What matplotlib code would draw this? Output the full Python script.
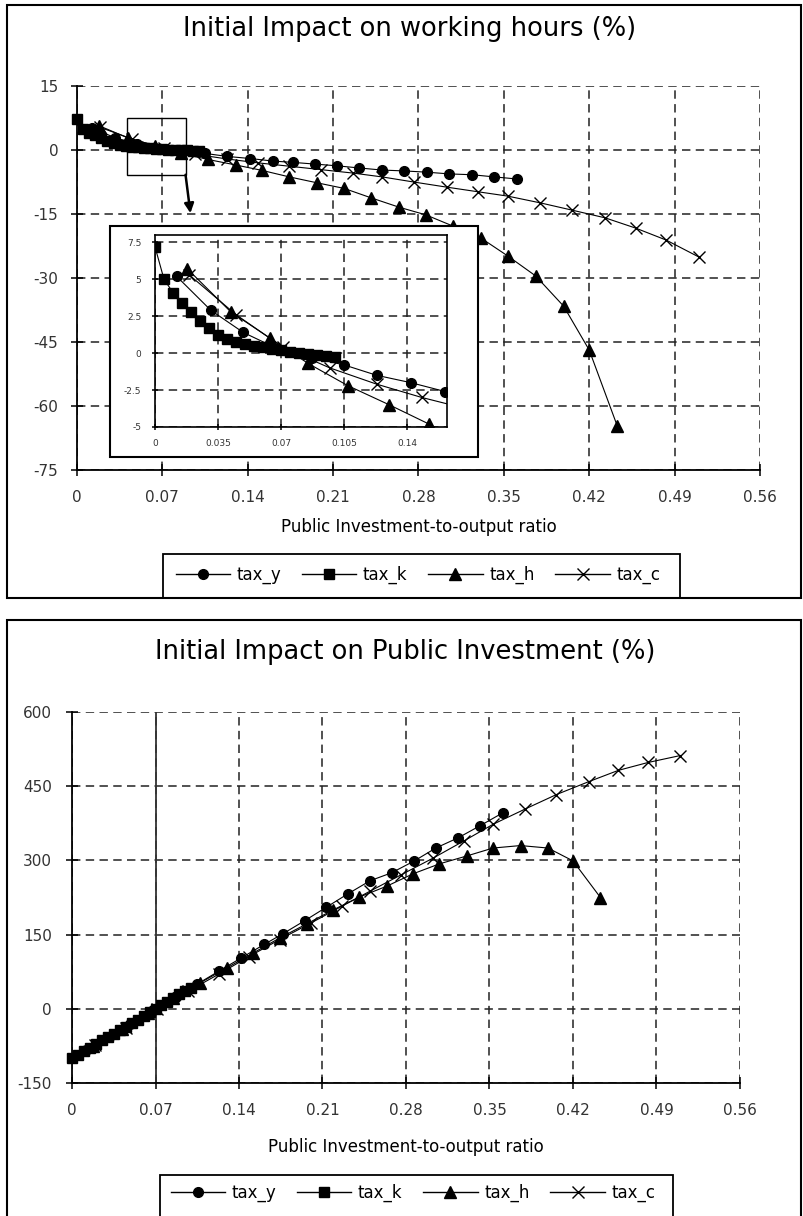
import matplotlib
matplotlib.use("Agg")
import matplotlib.pyplot as plt
from matplotlib.patches import Rectangle
from matplotlib.lines import Line2D

plt.rcParams['font.family'] = ['DejaVu Sans']

W, H = 804, 1216

# ---- data ----
series = ['tax_y', 'tax_k', 'tax_h', 'tax_c']

x_y = [0.012, 0.031, 0.049, 0.068, 0.087, 0.105, 0.123, 0.142, 0.161, 0.177,
       0.195, 0.213, 0.231, 0.250, 0.268, 0.287, 0.305, 0.324, 0.342, 0.361]
hours_y = [5.2, 2.9, 1.4, 0.3, -0.3, -0.8, -1.5, -2.0, -2.6, -2.9,
           -3.3, -3.7, -4.2, -4.7, -4.9, -5.2, -5.6, -5.8, -6.3, -6.8]
pubinv_y = [-83, -56, -30, -3, 24, 50, 76, 103, 130, 152,
            178, 205, 232, 259, 275, 299, 325, 346, 370, 396]

x_k = [0.000, 0.005, 0.010, 0.015, 0.020, 0.025, 0.030, 0.035, 0.040, 0.045, 0.050,
       0.055, 0.060, 0.065, 0.070, 0.075, 0.080, 0.085, 0.090, 0.095, 0.100]
hours_k = [7.2, 5.0, 4.1, 3.4, 2.8, 2.2, 1.7, 1.25, 0.95, 0.75, 0.6,
           0.5, 0.4, 0.3, 0.2, 0.1, 0.0, -0.05, -0.1, -0.2, -0.25]
pubinv_k = [-100, -93, -86, -79, -72, -64, -57, -50, -43, -36, -29,
            -22, -14, -7, 0, 7, 14, 21, 29, 36, 43]

x_h = [0.018, 0.042, 0.064, 0.085, 0.107, 0.130, 0.152, 0.174, 0.197, 0.219,
       0.241, 0.264, 0.286, 0.308, 0.331, 0.353, 0.376, 0.399, 0.420, 0.443]
hours_h = [5.7, 2.8, 1.0, -0.7, -2.2, -3.5, -4.8, -6.3, -7.7, -9.0,
           -11.2, -13.4, -15.2, -17.8, -20.6, -24.8, -29.5, -36.6, -46.9, -64.7]
pubinv_h = [-75, -41, -9, 21, 52, 83, 113, 143, 172, 200,
            226, 248, 273, 293, 309, 325, 330, 325, 299, 225]

x_c = [0.019, 0.045, 0.071, 0.097, 0.123, 0.148, 0.174, 0.200, 0.226, 0.250,
       0.276, 0.303, 0.329, 0.353, 0.380, 0.406, 0.433, 0.458, 0.483, 0.510]
hours_c = [5.3, 2.6, 0.4, -1.0, -2.1, -3.0, -3.8, -4.6, -5.4, -6.3,
           -7.5, -8.7, -9.8, -10.8, -12.4, -14.1, -15.9, -18.3, -21.1, -25.1]
pubinv_c = [-74, -38, -1, 35, 70, 105, 140, 173, 207, 238,
            271, 305, 340, 373, 404, 433, 459, 482, 498, 512]

x_ticks = [0, 0.07, 0.14, 0.21, 0.28, 0.35, 0.42, 0.49, 0.56]
x_ticklabels = ['0', '0.07', '0.14', '0.21', '0.28', '0.35', '0.42', '0.49', '0.56']
hours_ticks = [15, 0, -15, -30, -45, -60, -75]
pubinv_ticks = [600, 450, 300, 150, 0, -150]
inset_xticks = [0, 0.035, 0.07, 0.105, 0.14]
inset_xlabels = ['0', '0.035', '0.07', '0.105', '0.14']
inset_yticks = [7.5, 5, 2.5, 0, -2.5, -5]
inset_ylabels = ['7.5', '5', '2.5', '0', '-2.5', '-5']

markers = {'tax_y': ('o', 7.0, 1.0), 'tax_k': ('s', 7.0, 1.0),
           'tax_h': ('^', 8.5, 1.0), 'tax_c': ('x', 8.0, 1.0)}

GRID_DASH = (0, (5.5, 3.5))


def fr(x0, y0, x1, y1):
    # pixel box (top-left origin) -> figure fraction rect
    return [x0 / W, 1 - y1 / H, (x1 - x0) / W, (y1 - y0) / H]


def fx(x):
    return x / W


def fy(y):
    return 1 - y / H


def box(fig, x0, y0, x1, y1, lw=1.5, fc='none', z=1):
    fig.add_artist(Rectangle((fx(x0), fy(y1)), (x1 - x0) / W, (y1 - y0) / H,
                             transform=fig.transFigure, fill=(fc != 'none'),
                             facecolor=fc, edgecolor='black', lw=lw, zorder=z))


def draw(ax, xs, ys, clip=False):
    for name, x, y in zip(series, xs, ys):
        m, ms, mew = markers[name]
        ax.plot(x, y, color='black', lw=0.8, marker=m, ms=ms, mew=mew,
                mfc='black', mec='black', clip_on=clip, zorder=3)


def style(ax, xt, xl, yt, yl, fs, pad_x, pad_y, tl=9):
    ax.set_xticks(xt)
    ax.set_xticklabels(xl)
    ax.set_yticks(yt)
    ax.set_yticklabels(yl)
    ax.grid(True, color='#222222', linestyle=GRID_DASH, linewidth=1.1)
    ax.set_axisbelow(True)
    ax.tick_params(direction='inout', length=tl, width=1.1, labelsize=fs,
                   labelcolor='#333333')
    ax.tick_params(axis='x', pad=pad_x)
    ax.tick_params(axis='y', pad=pad_y)
    for s in ['left', 'bottom']:
        ax.spines[s].set_linewidth(1.3)


def legend(fig, cx, cy, fs):
    handles = []
    for name in series:
        m, ms, mew = markers[name]
        handles.append(Line2D([], [], color='black', lw=1.0, marker=m, ms=ms,
                              mew=mew, mfc='black', mec='black'))
    fig.legend(handles, series, loc='center', bbox_to_anchor=(fx(cx), fy(cy)),
               ncol=4, frameon=False, fontsize=fs, handlelength=3.25,
               handletextpad=0.4, columnspacing=1.25)


fig = plt.figure(figsize=(W / 100, H / 100), dpi=100)

# ---------------- top: working hours ----------------
box(fig, 7, 5, 801, 598)
fig.text(fx(410), fy(29), 'Initial Impact on working hours (%)', ha='center',
         va='center', fontsize=18.5)

ax1 = fig.add_axes(fr(77, 86, 760, 470))
draw(ax1, [x_y, x_k, x_h, x_c], [hours_y, hours_k, hours_h, hours_c])
ax1.set_xlim(0, 0.56)
ax1.set_ylim(-75, 15)
style(ax1, x_ticks, x_ticklabels, hours_ticks, [str(v) for v in hours_ticks],
      11, 10, 9)
ax1.spines['top'].set_visible(False)
ax1.spines['right'].set_visible(False)
ax1.set_xlabel('Public Investment-to-output ratio', fontsize=12, labelpad=9)

# zoom box and pointer
ax1.add_patch(Rectangle((0.041, -5.8), 0.048, 13.3, fill=False, lw=1.0,
                        ec='black', zorder=4))
ax1.annotate('', xy=(0.093, -14.8), xytext=(0.089, -5.8),
             arrowprops=dict(arrowstyle='-|>', color='black', lw=1.8,
                             mutation_scale=14, shrinkA=0, shrinkB=0),
             zorder=4)

# inset
box(fig, 110, 226, 478, 457, lw=1.5, fc='white', z=1)
ins = fig.add_axes(fr(155, 235, 447, 427))
ins.set_zorder(2)
draw(ins, [x_y, x_k, x_h, x_c], [hours_y, hours_k, hours_h, hours_c], clip=True)
ins.set_xlim(0, 0.162)
ins.set_ylim(-5, 8)
style(ins, inset_xticks, inset_xlabels, inset_yticks, inset_ylabels, 6.5, 7, 8, tl=4)
for s in ins.spines.values():
    s.set_linewidth(1.2)

box(fig, 163, 554, 680, 598, lw=1.3)
legend(fig, 418, 575, 12)

# ---------------- bottom: public investment ----------------
box(fig, 7, 620, 801, 1230)
fig.text(fx(405), fy(652), 'Initial Impact on Public Investment (%)',
         ha='center', va='center', fontsize=18.5)

ax2 = fig.add_axes(fr(72, 712, 740, 1083))
draw(ax2, [x_y, x_k, x_h, x_c], [pubinv_y, pubinv_k, pubinv_h, pubinv_c])
ax2.axvline(0.07, color='#333333', lw=1.3, zorder=2)
ax2.set_xlim(0, 0.56)
ax2.set_ylim(-150, 600)
style(ax2, x_ticks, x_ticklabels, pubinv_ticks, [str(v) for v in pubinv_ticks],
      11, 10, 10)
ax2.spines['top'].set_visible(False)
ax2.spines['right'].set_visible(False)
ax2.set_xlabel('Public Investment-to-output ratio', fontsize=12, labelpad=14)

box(fig, 160, 1175, 673, 1230, lw=1.3)
legend(fig, 413, 1193, 12)

fig.savefig('out.png', dpi=100)
